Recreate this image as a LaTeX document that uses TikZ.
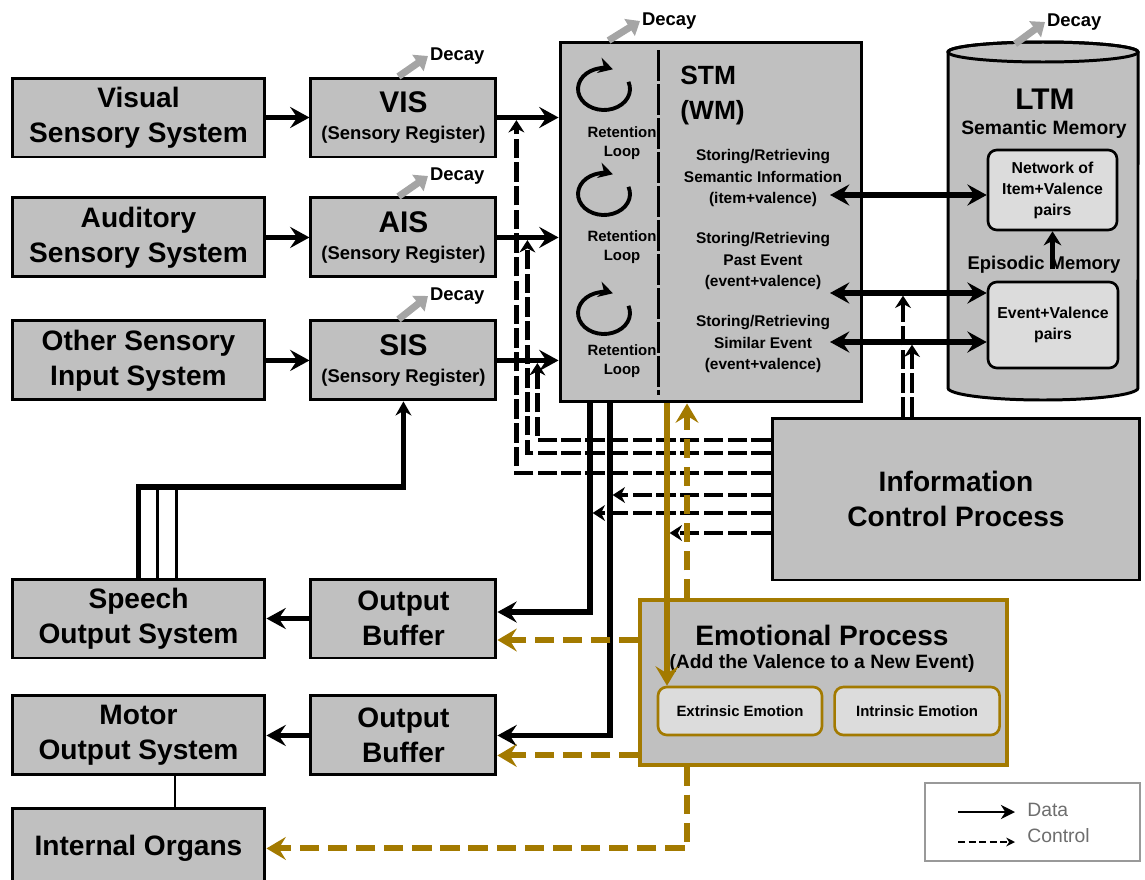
\documentclass[tikz,border=0pt]{standalone}
\usepackage{fontspec}
\setmainfont{Liberation Sans}
\usetikzlibrary{arrows.meta, positioning}
\definecolor{boxgray}{RGB}{192,192,192}
\definecolor{innergray}{RGB}{220,220,220}
\definecolor{emogold}{RGB}{163,122,0}
\definecolor{decaygray}{RGB}{165,165,165}
\definecolor{leggray}{RGB}{110,110,110}

\begin{document}
\begin{tikzpicture}[x=0.02cm, y=-0.02cm, node distance=0.76cm and 0.86cm,
    box/.style={draw, line width=1.7pt, fill=boxgray, minimum width=5.06cm, minimum height=1.58cm, inner sep=1pt, align=center, font=\bfseries\fontsize{16}{20}\selectfont},
    regbox/.style={box, minimum width=3.7cm, font=\bfseries\fontsize{10.5}{15}\selectfont},
    inbox/.style={draw, line width=1.5pt, fill=innergray, rounded corners=5pt, align=center},
    store/.style={inner sep=0pt, align=center, font=\bfseries\fontsize{8.8}{12.5}\selectfont},
    retain/.style={inner sep=0pt, align=center, font=\bfseries\fontsize{8.5}{11}\selectfont},
    decaylbl/.style={anchor=west, inner sep=1pt, font=\bfseries\fontsize{10.5}{12}\selectfont},
    decay/.style={draw=decaygray, line width=4pt, -{Triangle[length=7pt,width=11pt]}},
    data/.style={line width=3.2pt, -{Stealth[length=11pt,width=12pt,inset=4pt]}},
    bidata/.style={line width=3.2pt, {Stealth[length=11pt,width=12pt,inset=4pt]}-{Stealth[length=11pt,width=12pt,inset=4pt]}},
    link/.style={line width=1.6pt},
    ctrl/.style={line width=2.6pt, dash pattern=on 11pt off 2.5pt, -{Stealth[length=7pt,width=9pt]}, shorten >=1.5pt},
    golddata/.style={draw=emogold, line width=3.4pt, -{Stealth[length=11pt,width=13pt,inset=4pt]}},
    goldctrl/.style={golddata, dash pattern=on 11pt off 5pt},
    loopy/.style={line width=2.2pt, -{Stealth[length=8pt,width=9pt]}}]

    \useasboundingbox (0,0) rectangle (1145,879);

    \node[box] (visual) at (138.5,117.5) {Visual\\Sensory System};
    \node[box, below=of visual] (auditory) {Auditory\\Sensory System};
    \node[box, below=0.82cm of auditory] (other) {Other Sensory\\Input System};
    \node[regbox, right=of visual] (vis) {{\fontsize{17}{15}\selectfont VIS}\\(Sensory Register)};
    \node[regbox, right=of auditory] (ais) {{\fontsize{17}{15}\selectfont AIS}\\(Sensory Register)};
    \node[regbox, right=of other] (sis) {{\fontsize{17}{15}\selectfont SIS}\\(Sensory Register)};

    \node[decaylbl] (dvis) at (428,56) {Decay};
    \node[decaylbl] (dais) at (428,176) {Decay};
    \node[decaylbl] (dsis) at (428,296) {Decay};
    \draw[decay] ([xshift=-0.1cm]vis.north) -- (dvis.west);
    \draw[decay] ([xshift=-0.1cm]ais.north) -- (dais.west);
    \draw[decay] ([xshift=-0.1cm]sis.north) -- (dsis.west);

    \node[draw, line width=1.7pt, fill=boxgray, minimum width=6.04cm, minimum height=7.2cm] (stm) at (711,222) {};
    \draw[line width=1.7pt, dash pattern=on 0.62cm off 0.06cm] (658,50) -- (658,395);
    \node[anchor=north west, inner sep=0pt, align=left, font=\bfseries\fontsize{15}{20}\selectfont] (stmlbl) at (680,66) {STM\\(WM)};
    \node[decaylbl] (dstm) at (640,21) {Decay};
    \draw[decay] ([xshift=1cm]stm.north west) -- (dstm.west);

    \coordinate (loop1) at (604,89);
    \coordinate (loop2) at (604,194);
    \coordinate (loop3) at (604,313);
    \draw[loopy] ([shift={(20:0.52cm and 0.42cm)}]loop1) arc[start angle=20, end angle=-290, x radius=0.52cm, y radius=0.42cm];
    \draw[loopy] ([shift={(20:0.52cm and 0.42cm)}]loop2) arc[start angle=20, end angle=-290, x radius=0.52cm, y radius=0.42cm];
    \draw[loopy] ([shift={(20:0.52cm and 0.42cm)}]loop3) arc[start angle=20, end angle=-290, x radius=0.52cm, y radius=0.42cm];
    \node[retain] (ret1) at (622,143) {Retention\\Loop};
    \node[retain] (ret2) at (622,247) {Retention\\Loop};
    \node[retain] (ret3) at (622,361) {Retention\\Loop};

    \node[store] (sem) at (763,178) {Storing/Retrieving\\Semantic Information\\(item+valence)};
    \node[store] (past) at (763,261) {Storing/Retrieving\\Past Event\\(event+valence)};
    \node[store] (simi) at (763,344) {Storing/Retrieving\\Similar Event\\(event+valence)};

    \filldraw[fill=boxgray, line width=1.7pt] (948,52) -- (948,388) arc[start angle=180, end angle=360, x radius=1.9cm, y radius=0.24cm] -- (1138,52) arc[start angle=0, end angle=180, x radius=1.9cm, y radius=0.2cm] -- cycle;
    \draw[line width=1.7pt] (1043,52) ellipse[x radius=1.9cm, y radius=0.2cm];
    \coordinate (ltmtop) at (1015,44);
    \node[decaylbl] (dltm) at (1045,22) {Decay};
    \draw[decay] (ltmtop) -- (dltm.west);
    \node[font=\bfseries\fontsize{17}{20}\selectfont] (ltmlbl) at (1045,99) {LTM};
    \node[font=\bfseries\fontsize{11}{13}\selectfont] (semmem) at (1044,130) {Semantic Memory};
    \node[inbox, minimum width=2.58cm, minimum height=1.6cm, font=\bfseries\fontsize{9}{12}\selectfont] (net) at (1052.5,190) {Network of\\Item+Valence\\pairs};
    \node[font=\bfseries\fontsize{10.5}{13}\selectfont] (epimem) at (1044,265) {Episodic Memory};
    \node[inbox, minimum width=2.6cm, minimum height=1.72cm, font=\bfseries\fontsize{9}{12}\selectfont] (ev) at (1053,325) {Event+Valence\\pairs};
    \draw[line width=2.4pt, -{Stealth[length=8pt,width=10pt]}] ([yshift=-0.76cm]net.south) -- (net.south);

    \node[box, minimum width=7.36cm, minimum height=3.24cm] (icp) at (956,499) {Information\\Control Process};

    \node[draw=emogold, line width=1.8pt, fill=boxgray, minimum width=7.34cm, minimum height=3.3cm] (emo) at (823.5,682.5) {};
    \node[font=\bfseries\fontsize{16}{20}\selectfont] (emotitle) at (822,635) {Emotional Process};
    \node[font=\bfseries\fontsize{11}{13}\selectfont] (emosub) at (822,663) {(Add the Valence to a New Event)};
    \node[inbox, draw=emogold, minimum width=3.28cm, minimum height=0.96cm, font=\bfseries\fontsize{8.5}{10}\selectfont] (ext) at (740,711) {Extrinsic Emotion};
    \node[inbox, draw=emogold, minimum width=3.3cm, minimum height=0.96cm, font=\bfseries\fontsize{8.5}{10}\selectfont, right=0.2cm of ext] (intr) {Intrinsic Emotion};

    \node[box] (speech) at (138.5,618.5) {Speech\\Output System};
    \node[box, below=0.7cm of speech] (motor) {Motor\\Output System};
    \node[box, below=0.62cm of motor] (organs) {Internal Organs};
    \node[regbox, font=\bfseries\fontsize{16}{20}\selectfont, right=of speech] (outbuf1) {Output\\Buffer};
    \node[regbox, font=\bfseries\fontsize{16}{20}\selectfont, right=of motor] (outbuf2) {Output\\Buffer};

    \node[draw=leggray!70, line width=1.5pt, fill=white, minimum width=4.3cm, minimum height=1.56cm] (leg) at (1032.5,822) {};
    \node[anchor=west, inner sep=0pt, text=leggray, font=\fontsize{11}{13}\selectfont] (ldata) at (1027,810) {Data};
    \node[anchor=west, inner sep=0pt, text=leggray, font=\fontsize{11}{13}\selectfont] (lctrl) at (1027,836) {Control};
    \coordinate (la1) at (958,812);
    \coordinate (la2) at (958,842);
    \draw[line width=1.6pt, -{Stealth[length=8pt,width=8pt,inset=2.5pt]}] (la1) -- ++(57,0);
    \draw[line width=1pt, dash pattern=on 4pt off 2pt, -{Stealth[length=5pt,width=5pt]}] (la2) -- ++(57,0);

    \draw[data] (visual) -- (vis);
    \draw[data] (auditory) -- (ais);
    \draw[data] (other) -- (sis);
    \draw[data] (vis) -- (vis -| stm.west);
    \draw[data] (ais) -- (ais -| stm.west);
    \draw[data] (sis) -- (sis -| stm.west);

    \coordinate (s1) at (830,195);
    \coordinate (s2) at (830,293);
    \coordinate (s3) at (830,342);
    \draw[bidata] (s1) -- (s1 -| net.west);
    \draw[bidata] (s2) -- (s2 -| ev.west);
    \draw[bidata] (s3) -- (s3 -| ev.west);

    \coordinate (mA) at ([xshift=-2.42cm]stm.south);
    \coordinate (mB) at ([xshift=-2.02cm]stm.south);
    \coordinate (gE) at ([xshift=-0.88cm]stm.south);
    \coordinate (gF) at ([xshift=-0.48cm]stm.south);

    \coordinate (c1) at ([yshift=0.52cm]icp.west);
    \coordinate (c2) at ([yshift=0.92cm]icp.west);
    \coordinate (c3) at ([yshift=1.18cm]icp.west);
    \coordinate (c4) at ([yshift=0.08cm]icp.west);
    \coordinate (c5) at ([yshift=-0.28cm]icp.west);
    \coordinate (c6) at ([yshift=-0.68cm]icp.west);
    \coordinate (c7) at ([xshift=-1.06cm]icp.north);
    \coordinate (c8) at ([xshift=-0.88cm]icp.north);
    \draw[ctrl] (c1) -| ([xshift=0.38cm]vis.east);
    \draw[ctrl] (c2) -| ([xshift=0.6cm]ais.east);
    \draw[ctrl] (c3) -| ([xshift=0.8cm]sis.east);
    \draw[ctrl] (c4) -- (c4 -| mB);
    \draw[ctrl] (c5) -- (c5 -| mA);
    \draw[ctrl] (c6) -- (c6 -| gE);
    \draw[ctrl] (c7) -- (c7 |- s2);
    \draw[ctrl] (c8) -- (c8 |- s3);

    \coordinate (b1) at ([yshift=0.13cm]outbuf1.east);
    \draw[data] (mA) |- (b1);
    \draw[data] (mB) |- (outbuf2.east);
    \draw[data] (outbuf1) -- (speech);
    \draw[data] (outbuf2) -- (motor);

    \coordinate (fb) at (138.5,487);
    \coordinate (sp1) at ([xshift=0.38cm]speech.north);
    \coordinate (sp2) at ([xshift=0.76cm]speech.north);
    \draw[line width=3.2pt, -{Stealth[length=8pt,width=9pt]}] (speech.north) -- (fb) -| (sis.south);
    \draw[link] (sp1) -- (sp1 |- fb);
    \draw[link] (sp2) -- (sp2 |- fb);
    \coordinate (mo) at ([xshift=0.73cm]motor.south);
    \draw[link] (mo) -- (mo |- organs.north);

    \coordinate (b1g) at ([yshift=-0.43cm]outbuf1.east);
    \coordinate (b2g) at ([yshift=-0.4cm]outbuf2.east);
    \draw[golddata] (gE) -- (gE |- ext.north);
    \draw[goldctrl] (gF |- emo.north) -- (gF);
    \draw[goldctrl] (b1g -| emo.west) -- (b1g);
    \draw[goldctrl] (b2g -| emo.west) -- (b2g);
    \draw[goldctrl] (gF |- emo.south) |- (organs.east);
\end{tikzpicture}
\end{document}
